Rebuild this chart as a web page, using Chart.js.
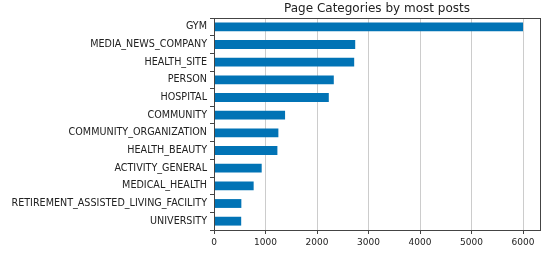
<!DOCTYPE html>
<html>
<head>
<meta charset="utf-8">
<script src="https://cdn.jsdelivr.net/npm/chart.js@4/dist/chart.umd.min.js"></script>
<style>
  html, body { margin: 0; padding: 0; background: #fff; }
  #wrap { width: 550px; height: 253px; position: relative; }
</style>
</head>
<body>
<div id="wrap"><canvas id="c" width="550" height="253"></canvas></div>
<script>
const categories = [
  "GYM", "MEDIA_NEWS_COMPANY", "HEALTH_SITE", "PERSON", "HOSPITAL", "COMMUNITY",
  "COMMUNITY_ORGANIZATION", "HEALTH_BEAUTY", "ACTIVITY_GENERAL", "MEDICAL_HEALTH",
  "RETIREMENT_ASSISTED_LIVING_FACILITY", "UNIVERSITY"
];
const postCounts = [6000, 2742, 2722, 2326, 2229, 1380, 1250, 1231, 926, 770, 531, 528];
const xTicks = [0, 1000, 2000, 3000, 4000, 5000, 6000];
const title = "Page Categories by most posts";

const FONT = "'DejaVu Sans', sans-serif";
const frame = {
  id: 'frame',
  afterDraw(chart) {
    const a = chart.chartArea, ctx = chart.ctx;
    ctx.save();
    ctx.strokeStyle = '#444';
    ctx.lineWidth = 1;
    ctx.strokeRect(Math.round(a.left) + 0.5, Math.round(a.top) + 0.5,
                   Math.round(a.right - a.left), Math.round(a.bottom - a.top));
    ctx.fillStyle = '#222';
    ctx.font = "12px " + FONT;
    ctx.textAlign = 'center';
    ctx.textBaseline = 'middle';
    ctx.fillText(title, (a.left + a.right) / 2, 9);
    ctx.restore();
  }
};

new Chart(document.getElementById('c'), {
  type: 'bar',
  data: {
    labels: categories,
    datasets: [{
      data: postCounts,
      backgroundColor: '#0173b5',
      barPercentage: 0.5,
      categoryPercentage: 1.0
    }]
  },
  plugins: [frame],
  options: {
    indexAxis: 'y',
    responsive: false,
    animation: false,
    layout: { padding: { left: 0, right: 10, top: 18, bottom: 0 } },
    plugins: {
      legend: { display: false },
      tooltip: { enabled: false },
      title: { display: false }
    },
    scales: {
      x: {
        min: 0, max: 6330,
        afterBuildTicks(scale) {
          scale.ticks = xTicks.map(v => ({ value: v }));
        },
        afterFit(scale) { scale.height = 23; },
        grid: { color: '#ccc', lineWidth: 1, drawTicks: true, tickLength: 4, tickColor: '#444' },
        border: { display: false },
        ticks: {
          color: '#222', font: { family: FONT, size: 9 }, padding: 3, maxRotation: 0,
          callback: (v) => String(v)
        }
      },
      y: {
        afterFit(scale) { scale.width = 214; },
        grid: { display: true, drawOnChartArea: false, tickLength: 4, tickColor: '#444' },
        border: { display: false },
        ticks: { color: '#222', font: { family: FONT, size: 9.6 }, padding: 3, autoSkip: false }
      }
    }
  }
});
</script>
</body>
</html>
